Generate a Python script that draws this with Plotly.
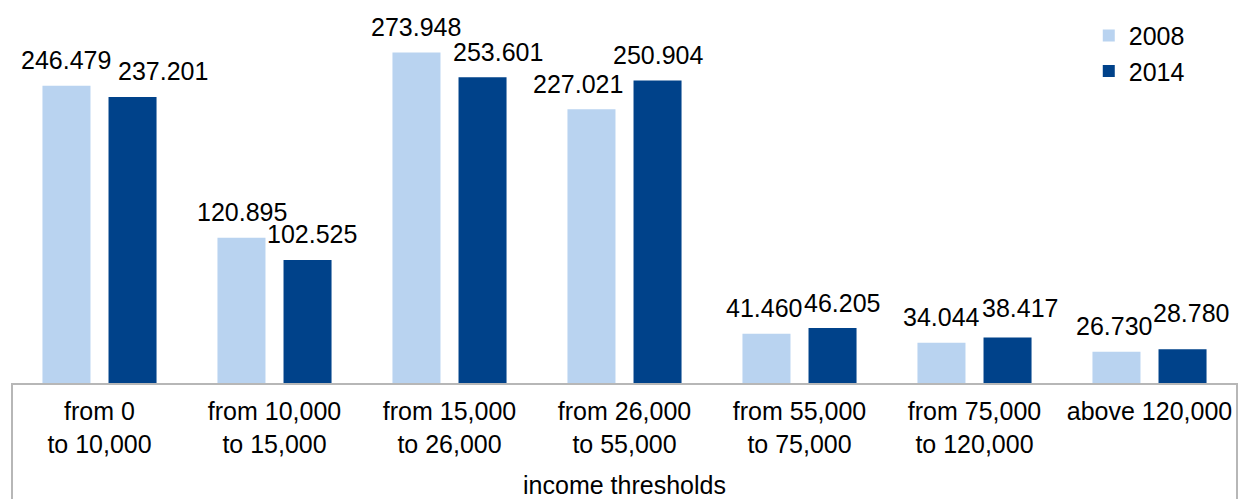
import plotly.graph_objects as go

categories = ["from 0<br>to 10,000", "from 10,000<br>to 15,000", "from 15,000<br>to 26,000",
              "from 26,000<br>to 55,000", "from 55,000<br>to 75,000", "from 75,000<br>to 120,000",
              "above 120,000"]
series_names = ["2008", "2014"]
values_2008 = [246.479, 120.895, 273.948, 227.021, 41.460, 34.044, 26.730]
values_2014 = [237.201, 102.525, 253.601, 250.904, 46.205, 38.417, 28.780]
axis_title = "income thresholds"

# styling / label placement tweaks (pixels)
colors = ["#b9d3f0", "#00428a"]
bar_offset = 33
label_dx = [[-1, 0, -1, -14, -3, 0, -3], [30, 4, 15, 0, 9, 12, 8]]
label_dy = [[0, 0, 0, 0, 0, 0, 0], [0, 0, 0, 0, 0, 4, 11]]
FONT = "Liberation Sans, Arial, sans-serif"
FS = 25

fig = go.Figure()
all_vals = [values_2008, values_2014]
for name, vals, col in zip(series_names, all_vals, colors):
    fig.add_trace(go.Bar(x=categories, y=vals, name=name, marker=dict(color=col, line=dict(width=0))))

annotations = []
for s, vals in enumerate(all_vals):
    sign = -1 if s == 0 else 1
    for i, (c, v) in enumerate(zip(categories, vals)):
        annotations.append(dict(
            x=c, y=v, xref="x", yref="y", text=f"{v:.3f}", showarrow=False,
            xanchor="center", yanchor="middle",
            xshift=sign * bar_offset + label_dx[s][i], yshift=25.5 + label_dy[s][i],
            font=dict(family=FONT, size=FS, color="#000000")))

fig.update_layout(
    width=1242, height=499,
    margin=dict(l=12, r=5, t=0, b=115),
    paper_bgcolor="white", plot_bgcolor="white",
    barmode="group", bargap=0.245, bargroupgap=0.273,
    font=dict(family=FONT, size=FS, color="#000000"),
    showlegend=True,
    legend=dict(x=0.879, y=0.967, xanchor="left", yanchor="top",
                font=dict(family=FONT, size=FS, color="#000000"),
                bgcolor="rgba(0,0,0,0)", itemwidth=30, tracegroupgap=0),
    annotations=annotations,
    xaxis=dict(showline=False, showgrid=False, zeroline=False, ticks="",
               ticklabelstandoff=10,
               tickfont=dict(family=FONT, size=FS, color="#000000"),
               title=dict(text=axis_title, font=dict(family=FONT, size=FS, color="#000000"), standoff=25),
               automargin=False),
    yaxis=dict(visible=False, range=[0, 384 / 1.21]),
    shapes=[dict(type="rect", xref="paper", yref="paper", x0=0, x1=1, y0=-1, y1=0,
                 line=dict(color="#b7b7b7", width=2), fillcolor="rgba(0,0,0,0)", layer="above")],
)

fig.write_html("out.html")
